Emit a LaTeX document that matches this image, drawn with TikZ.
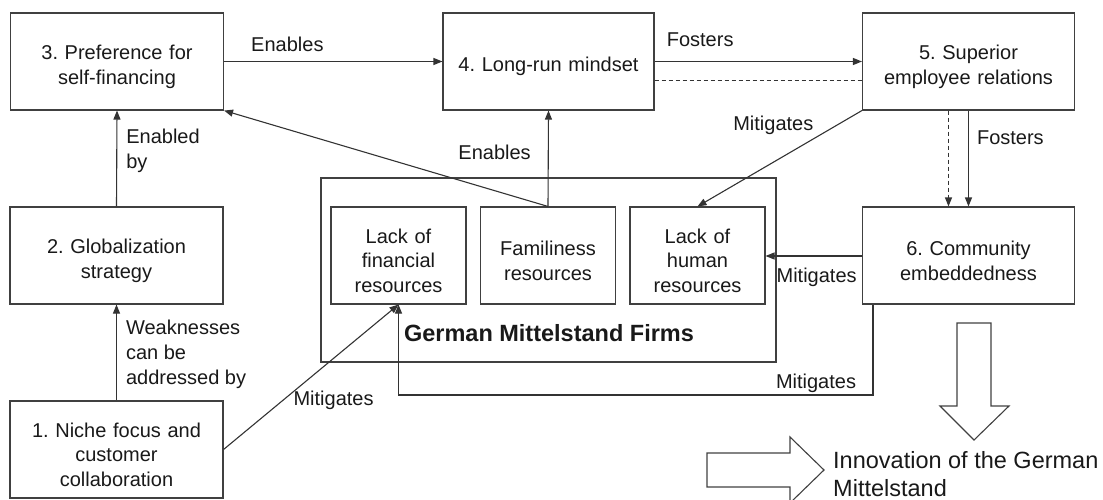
\documentclass[tikz,border=0pt]{standalone}
\usepackage{fontspec}
\setmainfont{Liberation Sans}
\usetikzlibrary{arrows.meta}
\tikzstyle{stage}=[draw=black!75, line width=1.1pt, minimum width=213pt, minimum height=97pt, text width=200pt, align=center, inner sep=2pt, text=black!90, font=\fontsize{20}{24.5}\selectfont\frenchspacing, execute at begin node={\rule{0pt}{25pt}}]
\tikzstyle{resource}=[stage, minimum width=135pt, text width=125pt]
\tikzstyle{link}=[draw=black!80, line width=1.1pt, -{Triangle[length=9pt,width=7pt]}]
\tikzstyle{lbl}=[font=\fontsize{20}{25}\selectfont, inner sep=2pt, text=black!90]

\begin{document}
\begin{tikzpicture}[x=1pt, y=-1pt]
\useasboundingbox (0,0) rectangle (1103,500);
\node[stage] at (117, 61.5) (pref) {3. Preference for\\self-financing};
\node[stage, minimum width=211pt] at (548.5, 61.5) (mind) {4. Long-run mindset};
\node[stage, minimum width=212pt] at (968.5, 61.5) (empl) {5. Superior\\employee relations};
\node[stage] at (116.5, 255.5) (glob) {2. Globalization\\strategy};
\node[stage] at (116.5, 449.5) (niche) {1. Niche focus and\\customer\\collaboration};
\node[stage, minimum width=212pt] at (968.5, 255.5) (comm) {6. Community\\embeddedness};
\node[draw=black!75, line width=1.1pt, minimum width=455pt, minimum height=184pt] at (548.5, 270) (firms) {};
\node[resource] at (398.5, 255.5) (fin) {Lack of\\financial\\resources};
\node[resource] at (548, 255.5) (fam) {Familiness\\resources};
\node[resource] at (697.5, 255.5) (hum) {Lack of\\human\\resources};
\node[font=\bfseries\fontsize{23.5}{28}\selectfont, text=black!90] at (549, 333) (firmname) {German Mittelstand Firms};
\coordinate (lowturn) at (398.5, 395);
\draw[link] (pref) -- node[lbl, anchor=south, pos=0.29, yshift=7pt] {Enables} (mind);
\draw[link] (mind) -- node[lbl, anchor=south, pos=0.22, yshift=12pt] {Fosters} (empl);
\draw[black!80, line width=1.1pt, dash pattern=on 4pt off 3pt] ([yshift=-19pt]mind.east) -- ([yshift=-19pt]empl.west);
\draw[link] (glob.north) -- node[lbl, anchor=west, align=left, pos=0.58, xshift=7pt] {Enabled\\by} (pref.south);
\draw[link] (niche.north) -- node[lbl, anchor=west, align=left, pos=0.48, xshift=7pt] {Weaknesses\\can be\\addressed by} (glob.south);
\draw[link] (fam.north) -- (pref.south east);
\draw[link] (fam.north) -- node[lbl, anchor=east, pos=0.56, xshift=-15pt] {Enables} (mind.south);
\draw[link] (empl.south west) -- node[lbl, anchor=south east, pos=0.28] {Mitigates} (hum.north);
\draw[link, dash pattern=on 4pt off 3pt] ([xshift=-20pt]empl.south) -- ([xshift=-20pt]comm.north);
\draw[link] (empl.south) -- node[lbl, anchor=west, pos=0.28, xshift=6pt] {Fosters} (comm.north);
\draw[link] ([yshift=-0.5pt]comm.west) -- node[lbl, anchor=north, pos=0.47, yshift=-9pt] {Mitigates} ([yshift=-0.5pt]hum.east);
\draw[link] ([xshift=11pt]comm.south west) |- (lowturn) node[lbl, anchor=south, pos=0.56] {Mitigates} -- (fin.south);
\draw[link] (niche.east) -- node[lbl, anchor=west, pos=0.34, xshift=8pt] {Mitigates} (fin.south);
% outcome arrows
\draw[black!75, line width=1.1pt] (957,323) -- (991,323) -- (991,406) -- (1009,406) -- (974,440) -- (940,406) -- (957,406) -- cycle;
\draw[black!75, line width=1.1pt] (707,453) -- (790,453) -- (790,437) -- (824,470) -- (790,503) -- (790,487) -- (707,487) -- cycle;
\node[anchor=west, align=left, inner sep=0pt, text=black!90, font=\fontsize{23.5}{28}\selectfont] at (833, 474) (innov) {Innovation of the German\\Mittelstand};
\end{tikzpicture}
\end{document}
